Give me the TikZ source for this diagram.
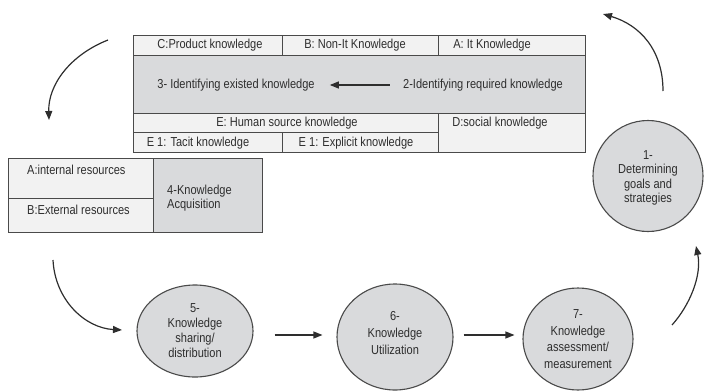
\documentclass[tikz,border=0pt]{standalone}
\usepackage{fontspec}
\setmainfont{Liberation Sans}[FakeStretch=0.85]
\usetikzlibrary{arrows.meta,shapes.geometric}
\definecolor{cellgray}{HTML}{D9DADC}
\definecolor{celllight}{HTML}{F2F2F2}
\definecolor{rule}{HTML}{4A4A4A}
\definecolor{ink}{HTML}{2E2E2E}
\begin{document}
\begin{tikzpicture}[x=1pt,y=-1pt,
  every node/.style={text=ink, font=\fontsize{13}{15}\selectfont, inner sep=0pt},
  cellline/.style={draw=rule, line width=0.9pt},
  light/.style={cellline, fill=celllight},
  dark/.style={cellline, fill=cellgray},
  stage/.style={ellipse, draw=rule, line width=1.1pt, fill=cellgray, align=center, inner sep=0pt},
  flow/.style={draw=ink, line width=1.2pt, -{Triangle[length=9pt,width=7pt]}},
]
\useasboundingbox (0,0) rectangle (704,391);

% ---- knowledge identification table ----
\path[light] (133,35) rectangle (282,55);
\path[light] (282,35) rectangle (438,55);
\path[light] (438,35) rectangle (585,55);
\path[dark]  (133,55) rectangle (585,113);
\path[light] (133,113) rectangle (438,132);
\path[light] (438,113) rectangle (585,152);
\path[light] (133,132) rectangle (282,152);
\path[light] (282,132) rectangle (438,152);

\node (prod)   at (210,45) {C:Product knowledge};
\node (nonit)  at (355,45) {B: Non-It Knowledge};
\node (itk)    at (492,45) {A: It Knowledge};
\node (step3)  at (236,85) {3- Identifying existed knowledge};
\node (step2)  at (483,85) {2-Identifying required knowledge};
\node (human)  at (287,123) {E: Human source knowledge};
\node (social) at (500,123) {D:social knowledge};
\node (tacit)  at (198,143) {E 1: Tacit knowledge};
\node (expl)   at (356,143) {E 1: Explicit knowledge};

\draw[flow] ([xshift=-13pt]step2.west) -- ([xshift=15pt]step3.east);

% ---- acquisition table ----
\path[light] (8,158) rectangle (153,198);
\path[light] (8,198) rectangle (153,232);
\path[dark]  (153,158) rectangle (262,232);
\node[anchor=west] (intres) at (27,170) {A:internal resources};
\node[anchor=west] (extres) at (27,210) {B:External resources};
\node[anchor=west, align=left, font=\fontsize{13}{14.3}\selectfont] (step4) at (167,198)
  {4-Knowledge\\Acquisition};

% ---- stages ----
\node[stage, minimum width=110pt, minimum height=111pt] (step1) at (648,176) {};
\node[align=center, font=\fontsize{13}{14.5}\selectfont] (lab1) at (648,178)
  {1-\\Determining\\goals and\\strategies};
\node[stage, minimum width=116pt, minimum height=92pt,
      font=\fontsize{13}{15}\selectfont] (step5) at (195,331)
  {5-\\Knowledge\\sharing/\\distribution};
\node[stage, minimum width=116pt, minimum height=106pt] (step6) at (395,337) {};
\node[align=center, font=\fontsize{13}{17}\selectfont] (lab6) at (395,333)
  {6-\\Knowledge\\Utilization};
\node[stage, minimum width=110pt, minimum height=102pt,
      font=\fontsize{13}{16.5}\selectfont] (step7) at (578,339)
  {7-\\Knowledge\\assessment/\\measurement};

% ---- connectors ----
\draw[flow] ([shift={(21,4)}]step5.east) -- ([shift={(-14,-2)}]step6.west);
\draw[flow] ([shift={(10,-2)}]step6.east) -- ([shift={(-8,-4)}]step7.west);

\coordinate (outA) at (108,40);  \coordinate (inA) at (49,120);
\coordinate (outB) at (53,260);  \coordinate (inB) at (122,330);
\coordinate (outC) at (672,325); \coordinate (inC) at (696,246);
\coordinate (outD) at (663,91);  \coordinate (inD) at (603,14);

\draw[flow] (outA) .. controls (70,55) and (48,85) .. (inA);
\draw[flow] (outB) .. controls (55,300) and (85,328) .. (inB);
\draw[flow] (outC) .. controls (690,305) and (702,275) .. (inC);
\draw[flow] (outD) .. controls (663,50) and (640,25) .. (inD);
\end{tikzpicture}
\end{document}
